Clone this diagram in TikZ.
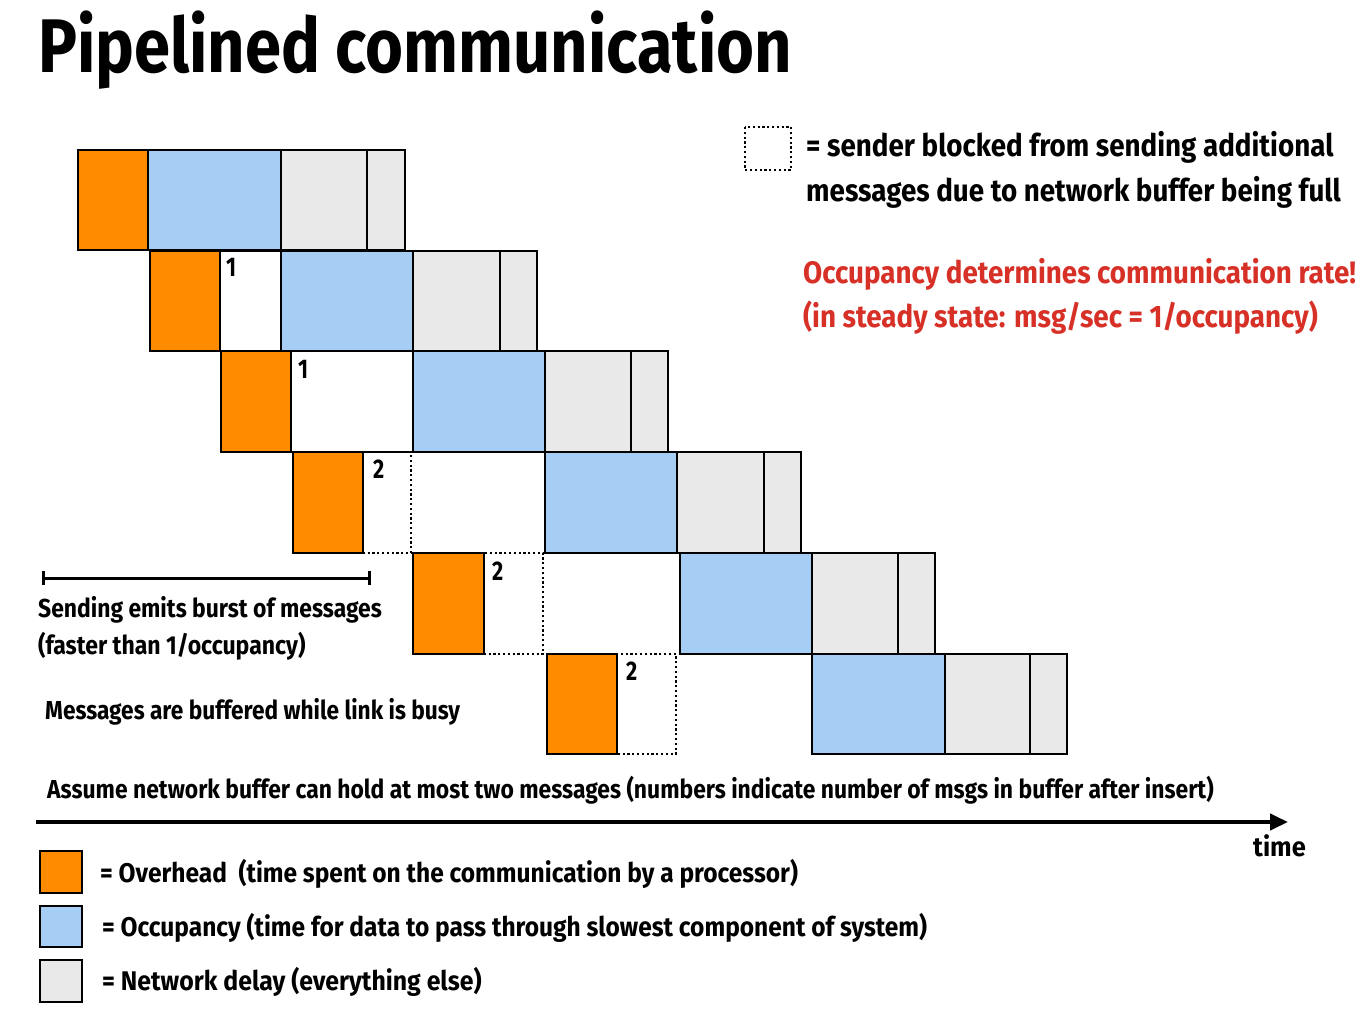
\documentclass[tikz,border=0pt]{standalone}
\usepackage{fontspec}
\setmainfont{Fira Sans}[FakeStretch=0.8]
\usetikzlibrary{arrows.meta}
\definecolor{ovh}{RGB}{255,140,0}
\definecolor{occ}{RGB}{166,206,244}
\definecolor{ndl}{RGB}{233,233,233}
\definecolor{redtxt}{RGB}{214,48,39}
\newcommand\fsz[1]{\fontsize{#1}{#1}\selectfont\bfseries}
\newcommand\sx[2]{\scalebox{#1}[1]{#2}}
\begin{document}
\begin{tikzpicture}[x=1pt,y=-1pt,
  obox/.style={fill=ovh,draw=black,line width=1.8pt},
  bbox/.style={fill=occ,draw=black,line width=1.8pt},
  gbox/.style={fill=ndl,draw=black,line width=1.8pt},
  wbox/.style={fill=white,draw=black,line width=1.8pt},
  dbox/.style={draw=black,line width=2pt,dash pattern=on 2.2pt off 2.6pt},
  txt/.style={anchor=base west,inner sep=0pt},
  num/.style={anchor=base west,inner sep=0pt,font=\fsz{27}},
]
\useasboundingbox (0,0) rectangle (1367,1019);
\fill[white] (0,0) rectangle (1367,1019);

% title
\node[txt,font=\fsz{76}] (title) at (38,73) {\sx{1.07}{Pipelined communication}};

% row 1
\draw[obox] (78,150) rectangle (148,250);
\draw[bbox] (148,150) rectangle (281,250);
\draw[gbox] (281,150) rectangle (367,250);
\draw[gbox] (367,150) rectangle (405,250);
% row 2
\draw[obox] (150,251) rectangle (220,351);
\draw[wbox] (220,251) rectangle (281,351);
\draw[bbox] (281,251) rectangle (413,351);
\draw[gbox] (413,251) rectangle (500,351);
\draw[gbox] (500,251) rectangle (537,351);
\node[num] (n1) at (226,276) {1};
% row 3
\draw[obox] (221,351) rectangle (291,452);
\draw[wbox] (291,351) rectangle (413,452);
\draw[bbox] (413,351) rectangle (545,452);
\draw[gbox] (545,351) rectangle (631,452);
\draw[gbox] (631,351) rectangle (668,452);
\node[num] (n2) at (298,378) {1};
% row 4
\draw[dbox] (363,452) rectangle (411,553);
\draw[obox] (293,452) rectangle (363,553);
\draw[bbox] (545,452) rectangle (677,553);
\draw[gbox] (677,452) rectangle (764,553);
\draw[gbox] (764,452) rectangle (801,553);
\node[num] (n3) at (373,478) {2};
% row 5
\draw[dbox] (484,553) rectangle (543,654);
\draw[obox] (413,553) rectangle (484,654);
\draw[bbox] (680,553) rectangle (812,654);
\draw[gbox] (812,553) rectangle (898,654);
\draw[gbox] (898,553) rectangle (935,654);
\node[num] (n4) at (492,580) {2};
% row 6
\draw[dbox] (617,654) rectangle (676,754);
\draw[obox] (547,654) rectangle (617,754);
\draw[bbox] (812,654) rectangle (945,754);
\draw[gbox] (945,654) rectangle (1030,754);
\draw[gbox] (1030,654) rectangle (1067,754);
\node[num] (n5) at (626,680) {2};

% blocked legend
\draw[dbox] (745,127) rectangle (791,170);
\node[txt,font=\fsz{31}] (bl1) at (806,157) {\sx{1.12}{= sender blocked from sending additional}};
\node[txt,font=\fsz{31}] (bl2) at (806,201) {\sx{1.12}{messages due to network buffer being full}};
\node[txt,font=\fsz{31},text=redtxt] (r1) at (803,283) {\sx{1.12}{Occupancy determines communication rate!}};
\node[txt,font=\fsz{31},text=redtxt] (r2) at (803,327) {\sx{1.12}{(in steady state: msg/sec = 1/occupancy)}};

% burst bar
\coordinate (bs) at (42,578);
\coordinate (be) at (371,578);
\draw[line width=3pt,{Bar[width=14pt]}-{Bar[width=14pt]}] (bs) -- (be);
\node[txt,font=\fsz{26}] (s1) at (38,617) {\sx{1.10}{Sending emits burst of messages}};
\node[txt,font=\fsz{26}] (s2) at (38,654) {\sx{1.107}{(faster than 1/occupancy)}};
\node[txt,font=\fsz{26}] (s3) at (45,719) {\sx{1.09}{Messages are buffered while link is busy}};
\node[txt,font=\fsz{26}] (s4) at (47,798) {\sx{1.10}{Assume network buffer can hold at most two messages (numbers indicate number of msgs in buffer after insert)}};

% time axis
\coordinate (ts) at (36,822);
\coordinate (te) at (1288,822);
\draw[line width=4pt,-{Triangle[length=18pt,width=16pt]}] (ts) -- (te);
\node[txt,font=\fsz{27}] (time) at (1253,856) {\sx{1.18}{time}};

% legend
\draw[obox] (40,851) rectangle (82,893);
\draw[bbox] (40,906) rectangle (82,947);
\draw[gbox] (40,960) rectangle (82,1002);
\node[txt,font=\fsz{27}] (l1) at (100,882) {\sx{1.135}{= Overhead\ \ (time spent on the communication by a processor)}};
\node[txt,font=\fsz{27}] (l2) at (102,936) {\sx{1.135}{= Occupancy (time for data to pass through slowest component of system)}};
\node[txt,font=\fsz{27}] (l3) at (102,990) {\sx{1.15}{= Network delay (everything else)}};
\end{tikzpicture}
\end{document}
